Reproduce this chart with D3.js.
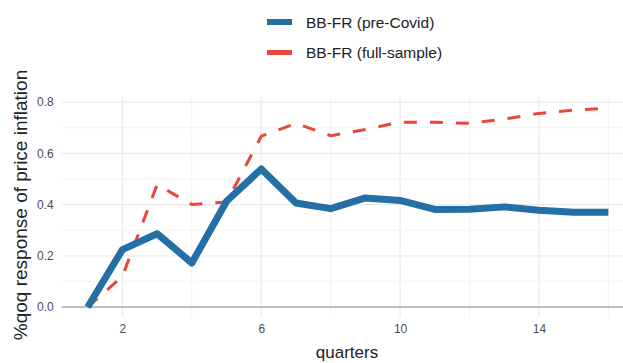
<!DOCTYPE html>
<html>
<head>
<meta charset="utf-8">
<script src="https://cdn.jsdelivr.net/npm/d3@7"></script>
<style>
  html, body { margin: 0; padding: 0; background: #fff; }
  svg { display: block; font-family: "Liberation Sans", Arial, sans-serif; }
</style>
</head>
<body>
<svg id="chart" width="623" height="363"></svg>
<script>
// Impulse horizon (quarters)
const quarters = [1, 2, 3, 4, 5, 6, 7, 8, 9, 10, 11, 12, 13, 14, 15, 16];
// Response of price inflation, % q-o-q
const preCovid   = [0.000, 0.224, 0.286, 0.172, 0.413, 0.539, 0.406, 0.384, 0.426, 0.416, 0.381, 0.382, 0.391, 0.378, 0.370, 0.370];
const fullSample = [0.000, 0.120, 0.478, 0.400, 0.410, 0.667, 0.717, 0.669, 0.693, 0.722, 0.721, 0.717, 0.734, 0.756, 0.769, 0.777];

const seriesNames = ["BB-FR (pre-Covid)", "BB-FR (full-sample)"];
const xMajorTicks = [2, 6, 10, 14];
const xMinorTicks = [4, 8, 12, 16];
const yMajorTicks = [0, 0.2, 0.4, 0.6, 0.8];
const yMinorTicks = [0.1, 0.3, 0.5, 0.7];

const blue = "#236fa6";
const red = "#e8483a";

const svg = d3.select("#chart");

const x = d3.scaleLinear().domain([0.25, 16.75]).range([61.7, 634.4]);
const y = d3.scaleLinear().domain([-0.039, 0.82]).range([317, 97]);

const panel = { left: 61.7, right: 634.4, top: 97, bottom: 317 };

// grid
const grid = svg.append("g");
grid.selectAll(".ymin").data(yMinorTicks).join("line")
  .attr("x1", panel.left).attr("x2", panel.right)
  .attr("y1", d => y(d)).attr("y2", d => y(d))
  .attr("stroke", "#f0f0f0").attr("stroke-width", 0.8);
grid.selectAll(".xmin").data(xMinorTicks).join("line")
  .attr("y1", panel.top).attr("y2", panel.bottom)
  .attr("x1", d => x(d)).attr("x2", d => x(d))
  .attr("stroke", "#f0f0f0").attr("stroke-width", 0.8);
grid.selectAll(".ymaj").data(yMajorTicks).join("line")
  .attr("x1", panel.left).attr("x2", panel.right)
  .attr("y1", d => y(d)).attr("y2", d => y(d))
  .attr("stroke", "#ebebeb").attr("stroke-width", 1.3);
grid.selectAll(".xmaj").data(xMajorTicks).join("line")
  .attr("y1", panel.top).attr("y2", panel.bottom)
  .attr("x1", d => x(d)).attr("x2", d => x(d))
  .attr("stroke", "#ebebeb").attr("stroke-width", 1.3);

// zero reference line
svg.append("line")
  .attr("x1", panel.left).attr("x2", panel.right)
  .attr("y1", y(0)).attr("y2", y(0))
  .attr("stroke", "#bdbdbd").attr("stroke-width", 2.2);

// axes (text only)
const xAxis = d3.axisBottom(x).tickValues(xMajorTicks).tickSize(0).tickPadding(0).tickFormat(d3.format("d"));
const gx = svg.append("g").attr("transform", `translate(0,${panel.bottom + 4})`).call(xAxis);
gx.select(".domain").remove();
gx.selectAll("text").attr("dy", "1em").attr("font-size", 12).attr("fill", "#4d4d4d")
  .attr("font-family", "Liberation Sans, Arial, sans-serif");

const yAxis = d3.axisLeft(y).tickValues(yMajorTicks).tickSize(0).tickPadding(0).tickFormat(d3.format(".1f"));
const gy = svg.append("g").attr("transform", `translate(${panel.left - 8},0)`).call(yAxis);
gy.select(".domain").remove();
gy.selectAll("text").attr("font-size", 12).attr("fill", "#4d4d4d")
  .attr("font-family", "Liberation Sans, Arial, sans-serif");

// lines
const line = d3.line().x(d => x(d[0])).y(d => y(d[1]));
const blueData = quarters.map((q, i) => [q, preCovid[i]]);
const redData = quarters.map((q, i) => [q, fullSample[i]]);

svg.append("path").datum(redData)
  .attr("d", line).attr("fill", "none")
  .attr("stroke", red).attr("stroke-width", 3)
  .attr("stroke-dasharray", "13,13");

svg.append("path").datum(blueData)
  .attr("d", line).attr("fill", "none")
  .attr("stroke", blue).attr("stroke-width", 7)
  .attr("stroke-linejoin", "round");

// axis titles
svg.append("text")
  .attr("x", 347).attr("y", 358)
  .attr("text-anchor", "middle").attr("font-size", 17).attr("fill", "#222")
  .text("quarters");

svg.append("text")
  .attr("transform", `translate(27,205) rotate(-90)`)
  .attr("text-anchor", "middle").attr("font-size", 19).attr("fill", "#222")
  .text("%qoq response of price inflation");

// legend
const legend = svg.append("g");
const legendRows = [
  { name: seriesNames[0], color: blue, y: 22, w: 6 },
  { name: seriesNames[1], color: red, y: 52.5, w: 5 }
];
legendRows.forEach(r => {
  legend.append("line")
    .attr("x1", 267).attr("x2", 292).attr("y1", r.y).attr("y2", r.y)
    .attr("stroke", r.color).attr("stroke-width", r.w);
  legend.append("text")
    .attr("x", 306).attr("y", r.y).attr("dy", "0.36em")
    .attr("font-size", 15.5).attr("fill", "#222")
    .text(r.name);
});
</script>
</body>
</html>
